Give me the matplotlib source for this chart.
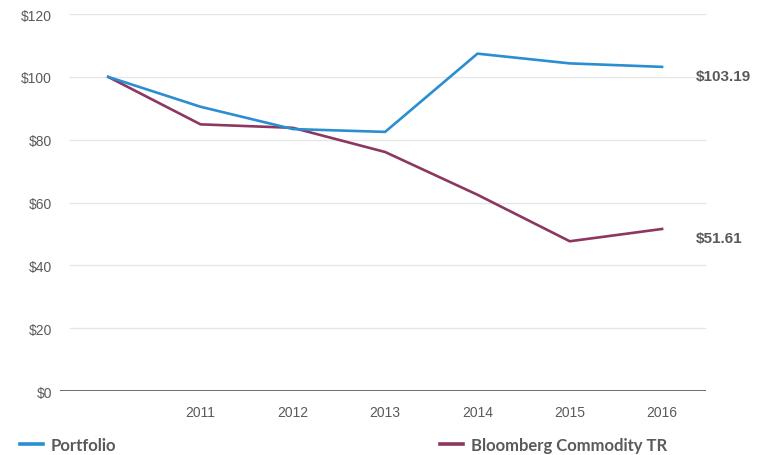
import matplotlib.pyplot as plt
from matplotlib.lines import Line2D

years = [2010, 2011, 2012, 2013, 2014, 2015, 2016]
portfolio = [100, 90.5, 83.4, 82.5, 107.4, 104.3, 103.19]
commodity = [100, 84.9, 83.8, 76.1, 62.5, 47.7, 51.61]
tick_years = [2011, 2012, 2013, 2014, 2015, 2016]
y_ticks = [0, 20, 40, 60, 80, 100, 120]

blue = '#2b8ed2'
maroon = '#8c3760'
txt = '#5a5a5a'

plt.rcParams['font.family'] = ['Liberation Sans', 'DejaVu Sans']

fig = plt.figure(figsize=(7.72, 4.56), dpi=100)
ax = fig.add_axes([0.078, 0.140, 0.837, 0.827])

for v in y_ticks[1:]:
    ax.axhline(v, xmin=0.015, color='#e6e6e6', lw=1.0, zorder=0)
ax.axhline(0, color='#555555', lw=1.2, zorder=1)

ax.plot(years, portfolio, color=blue, lw=1.9, zorder=3)
ax.plot(years, commodity, color=maroon, lw=1.9, zorder=2)

ax.set_xlim(2009.48, 2016.48)
ax.set_ylim(0, 120)
ax.set_xticks(tick_years)
ax.set_xticklabels([str(y) for y in tick_years], color=txt, fontsize=10)
ax.set_yticks(y_ticks)
ax.set_yticklabels(['$' + str(v) for v in y_ticks], color=txt, fontsize=10)
ax.tick_params(axis='x', length=0, pad=10)
ax.tick_params(axis='y', length=0, pad=6)
for s in ax.spines.values():
    s.set_visible(False)

for val in (portfolio[-1], commodity[-1]):
    ax.annotate(f'${val:.2f}', (years[-1], val), xytext=(24, -6.5),
                textcoords='offset points', va='center', fontsize=11, fontweight='bold',
                color=txt, annotation_clip=False)

# legend, split in two at the bottom
h1 = Line2D([], [], color=blue, lw=2.6)
h2 = Line2D([], [], color=maroon, lw=2.6)
lp = dict(frameon=False, handlelength=1.4, handletextpad=0.45, borderaxespad=0, borderpad=0,
          prop={'family': 'Lato', 'weight': 'bold', 'size': 12}, labelcolor=txt)
fig.legend([h1], ['Portfolio'], loc='center left', bbox_to_anchor=(0.026, 0.022), **lp)
fig.legend([h2], ['Bloomberg Commodity TR'], loc='center left', bbox_to_anchor=(0.570, 0.022), **lp)

fig.savefig('out.png', dpi=100)
